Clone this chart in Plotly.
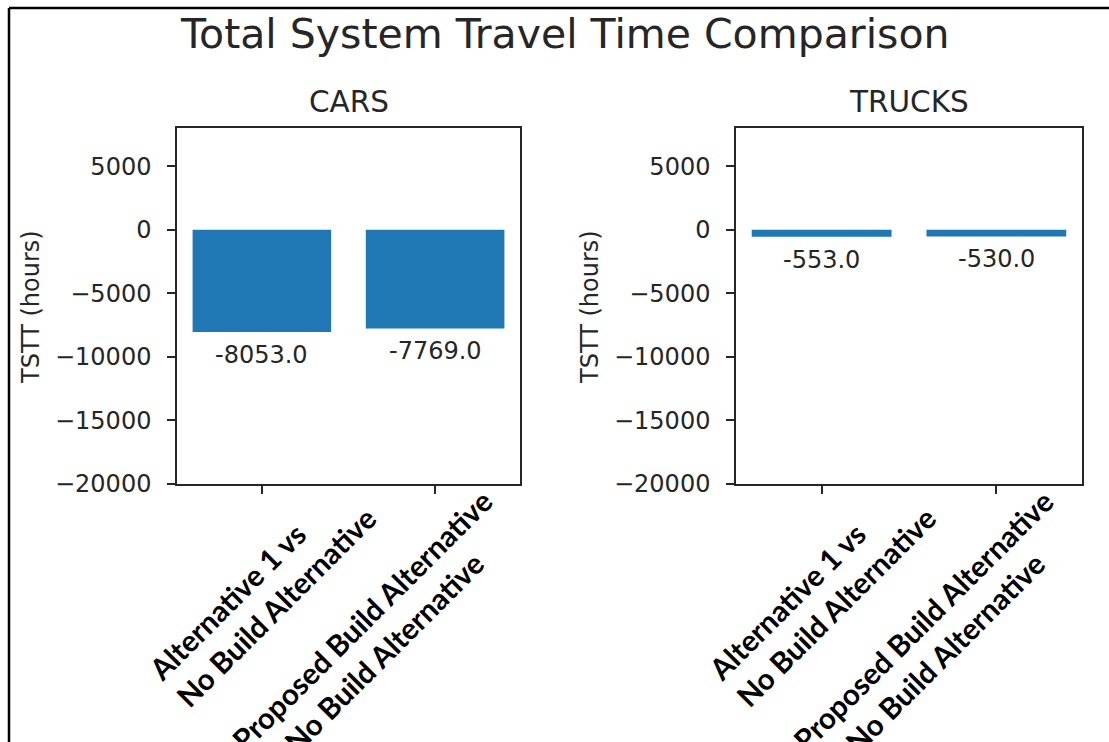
import plotly.graph_objects as go

# ---- data -------------------------------------------------------------
comparisons = [
    "Alternative 1 vs No Build Alternative",
    "Proposed Build Alternative vs No Build Alternative",
]
comparison_labels = [
    "Alternative 1 vs<br>No Build Alternative",
    "Proposed Build Alternative<br>vs No Build Alternative",
]
cars_tstt = [-8053.0, -7769.0]
trucks_tstt = [-553.0, -530.0]
panel_titles = ["CARS", "TRUCKS"]
y_tick_values = [5000, 0, -5000, -10000, -15000, -20000]
y_tick_text = ["5000", "0", "\u22125000", "\u221210000", "\u221215000", "\u221220000"]

# ---- page geometry (pixels -> paper fractions) ------------------------
W, H = 1109, 742


def fx(px):
    return px / W


def fy(py):
    return 1 - py / H


BAR_COLOR = "#1f77b4"
INK = "#262626"
MPL_FONT = "DejaVu Sans"
LABEL_FONT = "Lato"

# per-label nudges (pixels) for the rotated category labels
LABEL_XSHIFT = [0, -60]
LABEL_YSHIFT = [24, 14]

panels = [
    dict(values=cars_tstt, x0=177, x1=520, xa="x", ya="y"),
    dict(values=trucks_tstt, x0=736, x1=1082, xa="x2", ya="y2"),
]

fig = go.Figure()
annotations = []

for i, p in enumerate(panels):
    fig.add_trace(
        go.Bar(
            x=comparisons,
            y=p["values"],
            width=0.8,
            marker=dict(color=BAR_COLOR, line=dict(width=0)),
            xaxis=p["xa"],
            yaxis=p["ya"],
            showlegend=False,
            hoverinfo="skip",
        )
    )
    # value labels just under each bar end
    for cat, v in zip(comparisons, p["values"]):
        annotations.append(
            dict(
                x=cat, y=v, xref=p["xa"], yref=p["ya"],
                text=f"{v:.1f}", showarrow=False,
                xanchor="center", yanchor="top", yshift=-7,
                font=dict(family=MPL_FONT, size=24, color=INK),
            )
        )
    # rotated category labels
    for j, (cat, lab) in enumerate(zip(comparisons, comparison_labels)):
        annotations.append(
            dict(
                x=cat, y=fy(494), xref=p["xa"], yref="paper",
                text=lab, showarrow=False, textangle=-45, align="left",
                xanchor="center", yanchor="top",
                xshift=LABEL_XSHIFT[j], yshift=LABEL_YSHIFT[j],
                font=dict(family=LABEL_FONT, size=29.5, color="black", weight="bold"),
            )
        )
    # panel title
    annotations.append(
        dict(
            x=fx((p["x0"] + p["x1"]) / 2), y=fy(102), xref="paper", yref="paper",
            text=panel_titles[i], showarrow=False,
            xanchor="center", yanchor="middle",
            font=dict(family=MPL_FONT, size=29.5, color=INK),
        )
    )
    # y-axis title
    annotations.append(
        dict(
            x=fx(p["x0"] - 146), y=fy(307), xref="paper", yref="paper",
            text="TSTT (hours)", showarrow=False, textangle=-90,
            xanchor="center", yanchor="middle",
            font=dict(family=MPL_FONT, size=24, color=INK),
        )
    )

# figure title
annotations.append(
    dict(
        x=fx(564), y=fy(34), xref="paper", yref="paper",
        text="Total System Travel Time Comparison", showarrow=False,
        xanchor="center", yanchor="middle",
        font=dict(family=MPL_FONT, size=41, color=INK),
    )
)

axis_common = dict(
    showline=True, linecolor=INK, linewidth=1.5, mirror=True,
    showgrid=False, zeroline=False,
    ticks="outside", ticklen=8, tickwidth=1.5, tickcolor=INK,
    automargin=False,
)

xaxis_common = dict(axis_common, type="category", range=[-0.49, 1.49],
                    showticklabels=False)
yaxis_common = dict(
    axis_common, range=[-20000, 8000],
    tickvals=y_tick_values, ticktext=y_tick_text,
    tickfont=dict(family=MPL_FONT, size=24, color=INK),
    ticklabelstandoff=11,
)

y_domain = [fy(484), fy(128)]

fig.update_layout(
    width=W, height=H,
    margin=dict(l=0, r=0, t=0, b=0),
    paper_bgcolor="white", plot_bgcolor="white",
    bargap=0.2,
    xaxis=dict(xaxis_common, domain=[fx(177), fx(520)], anchor="y"),
    yaxis=dict(yaxis_common, domain=y_domain, anchor="x"),
    xaxis2=dict(xaxis_common, domain=[fx(736), fx(1082)], anchor="y2"),
    yaxis2=dict(yaxis_common, domain=y_domain, anchor="x2"),
    annotations=annotations,
    shapes=[
        # page frame lines
        dict(type="line", xref="paper", yref="paper",
             x0=fx(9), x1=1.0, y0=fy(8), y1=fy(8),
             line=dict(color="black", width=2.5)),
        dict(type="line", xref="paper", yref="paper",
             x0=fx(9), x1=fx(9), y0=fy(8), y1=0,
             line=dict(color="black", width=2.5)),
    ],
)

fig.write_html("out.html")
